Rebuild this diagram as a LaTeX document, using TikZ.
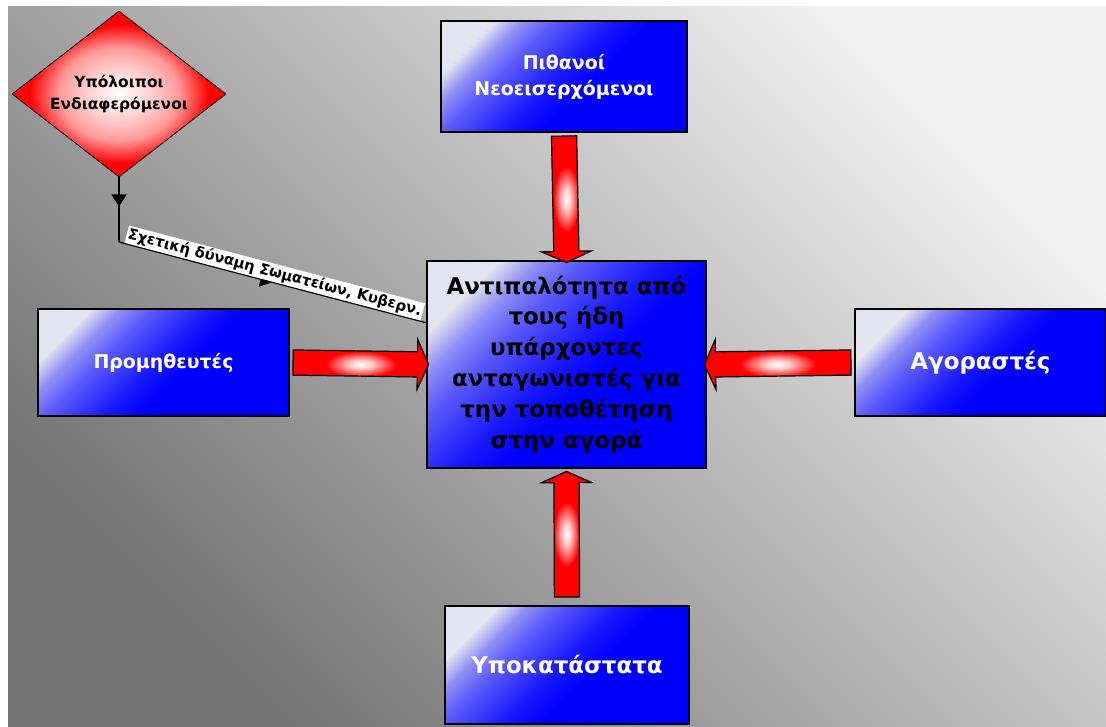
\documentclass[tikz,border=0pt]{standalone}
\usepackage{fontspec}
\setmainfont{DejaVu Sans}
\usetikzlibrary{positioning, shapes.geometric, shapes.arrows, arrows.meta, calc, decorations.markings}
\definecolor{paper}{HTML}{F2F2F2}
\definecolor{slate}{HTML}{727272}
\definecolor{haze}{HTML}{E4E4F0}
\definecolor{royal}{HTML}{0000FF}
\definecolor{flame}{HTML}{FF0000}
\colorlet{blush}{white!80!flame}
\colorlet{pinkish}{white!60!flame}
\colorlet{rose}{white!45!flame}
\colorlet{lilacA}{haze!62!royal}
\colorlet{lilacB}{haze!40!royal}
\colorlet{lilacC}{haze!10!royal}
\pgfdeclareradialshading{glow}{\pgfpoint{0bp}{0bp}}{color(0bp)=(white); color(4bp)=(blush); color(8bp)=(rose); color(13bp)=(flame); color(50bp)=(flame)}
\pgfdeclareradialshading{ember}{\pgfpoint{0bp}{0bp}}{color(0bp)=(white); color(8bp)=(blush); color(14bp)=(pinkish); color(21bp)=(flame); color(50bp)=(flame)}
\pgfdeclarehorizontalshading{sheen}{100bp}{color(0bp)=(haze); color(25bp)=(haze); color(31bp)=(lilacA); color(37bp)=(lilacB); color(49bp)=(lilacC); color(56bp)=(royal); color(100bp)=(royal)}

\begin{document}
\begin{tikzpicture}[x=1bp, y=-1bp,
  panel/.style={rectangle, draw=black, line width=2.5bp, shading=sheen, shading angle=-45, align=center, text=white, inner sep=0pt, font=\fontsize{19}{26}\selectfont\bfseries},
  bigpanel/.style={panel, font=\fontsize{23}{31}\selectfont\bfseries},
  hub/.style={bigpanel, text=black},
  rhombus/.style={diamond, draw=black, line width=0.8bp, shading=ember, aspect=1.29, inner sep=0pt, minimum width=214bp, minimum height=166bp, align=center, font=\fontsize{15.5}{22}\selectfont\bfseries},
  bigarrow/.style={single arrow, draw=black, line width=1.2bp, shading=glow, inner xsep=0pt, inner ysep=12bp, single arrow head extend=12.5bp, single arrow tip angle=132, sloped, allow upside down},
  link/.style={line width=1.3bp, black},
  midtip/.style={postaction={decorate}, decoration={markings, mark=at position #1 with {\arrow{Triangle[length=12bp, width=15bp]}}}},
  tag/.style={fill=white, inner sep=1.5bp, font=\fontsize{14.8}{17}\selectfont\bfseries}
]
  % page and backdrop
  \useasboundingbox (0,0) rectangle (1106,727);
  \fill[white] (0,0) rectangle (1106,727);
  \shade[bottom color=slate, top color=paper, shading angle=-45] (8,7) rectangle (1106,727);

  \node[rhombus] (dia) at (119,94) {Υπόλοιποι\\Ενδιαφερόμενοι};
  \node[panel, minimum width=246bp, minimum height=111bp] (new) at (564,76.5) {Πιθανοί\\Νεοεισερχόμενοι};
  \node[hub, minimum width=279bp, minimum height=207bp] (ctr) at (566.5,364.5) {Αντιπαλότητα από\\τους ήδη\\υπάρχοντες\\ανταγωνιστές για\\την τοποθέτηση\\στην αγορά};
  \node[panel, minimum width=251bp, minimum height=107bp] (sup) at (163.5,362.5) {Προμηθευτές};
  \node[bigpanel, minimum width=251bp, minimum height=107bp] (buy) at (980.5,362.5) {Αγοραστές};
  \node[bigpanel, minimum width=244bp, minimum height=118bp] (sub) at (567,665) {Υποκατάστατα};

  % block arrows into the centre
  \coordinate (subtop) at ($(sub.north)+(0,-5)$);
  \coordinate (ctrbot) at ($(ctr.south)+(0,5)$);
  \foreach \a/\b in {new.south/ctr.north, sup.east/ctr.west, buy.west/ctr.east, subtop/ctrbot} {
    \path let \p1=(\a), \p2=(\b), \n1={veclen(\x2-\x1,\y2-\y1)} in
      (\p1) -- node[bigarrow, minimum height=\n1] {} (\p2);
  }

  % other stakeholders
  \coordinate (bend) at (119,242);
  \coordinate (hit) at ($(ctr.north west)!0.3!(ctr.south west)$);
  \draw[link, midtip=0.45] (dia.south) -- (bend);
  \draw[link, midtip=0.5] (bend) -- node[tag, sloped, above, pos=0.5] {Σχετική δύναμη Σωματείων, Κυβερν.} (hit);
\end{tikzpicture}
\end{document}
